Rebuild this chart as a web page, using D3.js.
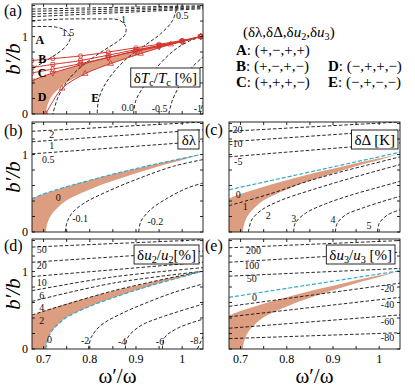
<!DOCTYPE html>
<html>
<head>
<meta charset="utf-8">
<script src="https://cdnjs.cloudflare.com/ajax/libs/d3/7.8.5/d3.min.js"></script>
<style>
body { margin: 0; background: #fff; }
text { font-family: "Liberation Serif", "DejaVu Serif", serif; }
</style>
</head>
<body>
<div id="vis"><svg></svg></div>
<script>
// ---- data (omega'/omega , b'/b) ----
const xDomain = [0.675, 1.045];
const yDomain = [0, 1.42];
const xTicks = [0.7, 0.75, 0.8, 0.85, 0.9, 0.95, 1.0];
const xTickLabels = [[0.7, "0.7"], [0.8, "0.8"], [0.9, "0.9"], [1.0, "1"]];
const yTicks = [0, 0.2, 0.4, 0.6, 0.8, 1.0, 1.2, 1.4];
const yTickLabels = [[0, "0"], [1, "1"]];

const shadeUpper = [[0.675,0.43],[0.70,0.49],[0.72,0.53],[0.75,0.585],[0.78,0.635],[0.83,0.715],[0.88,0.79],[0.93,0.86],[0.98,0.925],[1.04,1.0]];
const shadeLower = [[0.705,0],[0.707,0.08],[0.712,0.17],[0.72,0.25],[0.735,0.34],[0.75,0.41],[0.8,0.55],[0.85,0.66],[0.9,0.76],[0.95,0.85],[1.0,0.93],[1.04,1.0]];

// red lines of panel (a)
const redB1 = [[0.675,0.69],[0.72,0.715],[0.78,0.75],[0.84,0.80],[0.90,0.855],[0.95,0.9],[1.0,0.95],[1.04,1.0]];
const redB2 = [[0.675,0.60],[0.72,0.64],[0.78,0.69],[0.84,0.76],[0.90,0.83],[0.95,0.88],[1.0,0.94],[1.04,1.0]];
const redC = [[0.675,0.53],[0.72,0.58],[0.78,0.65],[0.84,0.73],[0.90,0.81],[0.95,0.87],[1.0,0.935],[1.04,1.0]];
const redUpper = [[0.675,0.43],[0.72,0.53],[0.78,0.635],[0.84,0.73],[0.90,0.815],[0.95,0.885],[1.0,0.94],[1.04,1.0]];
const redLower = [[0.705,0],[0.74,0.33],[0.79,0.52],[0.845,0.65],[0.91,0.78],[0.975,0.9],[1.04,1.0]];

const contoursA = [
  [[0.675,1.355],[1.045,1.397]],
  [[0.675,1.325],[1.045,1.385]],
  [[0.675,1.29],[1.045,1.372]],
  [[0.675,1.256],[1.045,1.359]],
  [[0.675,1.128],[0.729,1.12],[0.75,1.068],[0.758,0.99],[0.75,0.885],[0.729,0.778],[0.70,0.67],[0.675,0.585]],
  [[0.675,1.205],[0.75,1.226],[0.823,1.226],[0.863,1.214],[0.877,1.14],[0.877,1.034],[0.863,0.949],[0.83,0.82],[0.794,0.67],[0.765,0.52],[0.743,0.35],[0.729,0.18],[0.72,0]],
  [[0.99,1.42],[0.979,1.205],[0.953,1.034],[0.924,0.906],[0.888,0.756],[0.855,0.564],[0.83,0.35],[0.819,0.18],[0.816,0]],
  [[0.895,0],[0.9,0.18],[0.921,0.393],[0.946,0.607],[0.982,0.82],[1.018,0.949],[1.045,1.0]],
  [[0.971,0],[0.979,0.18],[0.997,0.393],[1.022,0.607],[1.045,0.735]],
  [[1.039,0],[1.045,0.15]]
];
const labelsA = [["1.5",0.753,1.05],["1",0.873,1.22],["0.5",1.0,1.27],["0.0",0.882,0.09],["-0.5",0.951,0.077],["-1",1.034,0.077]];
const regionsA = [["A",0.692,0.95],["B",0.697,0.715],["C",0.697,0.53],["D",0.697,0.22],["E",0.812,0.205]];

const contoursB = [
  [[0.675,1.30],[1.045,1.42]],
  [[0.675,1.165],[1.045,1.32]],
  [[0.675,1.009],[1.045,1.17]],
  [[0.747,0],[0.75,0.11],[0.761,0.24],[0.787,0.37],[0.837,0.52],[0.91,0.70],[0.982,0.85],[1.045,0.935]],
  [[0.906,0],[0.91,0.13],[0.931,0.286],[0.968,0.437],[1.011,0.567],[1.045,0.632]]
];
const labelsB = [["2",0.718,1.26],["1",0.718,1.12],["0.5",0.71,0.94],["0",0.732,0.45],["-0.1",0.779,0.18],["-0.2",0.942,0.13]];
const cyanB = shadeUpper;

const contoursC = [
  [[0.675,1.30],[1.045,1.42]],
  [[0.675,1.165],[1.045,1.316]],
  [[0.675,0.97],[1.045,1.15]],
  [[0.675,0.34],[0.768,0.50],[0.84,0.645],[0.913,0.77],[0.985,0.88],[1.045,0.97]],
  [[0.717,0],[0.724,0.155],[0.746,0.286],[0.79,0.415],[0.855,0.545],[0.927,0.675],[1.0,0.797],[1.045,0.87]],
  [[0.815,0],[0.818,0.11],[0.84,0.24],[0.884,0.364],[0.941,0.48],[1.0,0.58],[1.045,0.654]],
  [[0.905,0],[0.909,0.11],[0.927,0.22],[0.963,0.307],[1.007,0.394],[1.045,0.46]],
  [[0.996,0],[1.0,0.11],[1.018,0.22],[1.045,0.286]]
];
const labelsC = [["-20",0.69,1.32],["-10",0.69,1.14],["-5",0.695,0.91],["0",0.695,0.48],["1",0.71,0.33],["2",0.76,0.21],["3",0.815,0.18],["4",0.9,0.155],["5",0.978,0.08]];
const cyanC = [[0.675,0.545],[1.045,1.03]];

const contoursD = [
  [[0.675,1.316],[1.045,1.41]],
  [[0.675,1.12],[1.045,1.264]],
  [[0.675,0.935],[1.045,1.12]],
  [[0.675,0.753],[0.85,0.93],[1.045,1.05]],
  [[0.675,0.615],[0.85,0.85],[1.04,1.0]],
  [[0.675,0.44],[0.85,0.75],[1.04,1.0]],
  [[0.797,0],[0.803,0.147],[0.823,0.3],[0.866,0.45],[0.924,0.60],[0.982,0.73],[1.045,0.84]],
  [[0.877,0],[0.882,0.147],[0.91,0.3],[0.953,0.407],[1.045,0.58]],
  [[0.957,0],[0.962,0.147],[0.99,0.268],[1.045,0.385]],
  [[1.033,0],[1.045,0.16]]
];
const labelsD = [["50",0.696,1.28],["20",0.696,1.08],["10",0.696,0.86],["6",0.696,0.69],["4",0.696,0.54],["2",0.696,0.37],["0",0.713,0.125],["-2",0.79,0.11],["-4",0.87,0.10],["-6",0.952,0.10],["-8",1.026,0.11]];
const cyanD = shadeLower;

const contoursE = [
  [[0.675,1.307],[1.045,1.40]],
  [[0.675,1.12],[1.045,1.25]],
  [[0.675,0.94],[1.045,1.04]],
  [[0.675,0.55],[1.045,0.85]],
  [[0.675,0.415],[1.045,0.667]],
  [[0.675,0.268],[1.045,0.44]],
  [[0.675,0.134],[1.045,0.21]]
];
const labelsE = [["200",0.728,1.27],["100",0.724,1.08],["50",0.724,0.905],["0",0.73,0.66],["-20",1.018,0.78],["-40",1.018,0.57],["-60",1.018,0.36],["-80",1.018,0.147]];
const cyanE = [[0.675,0.667],[1.045,1.01]];

// legend: [column, row, pieces]
const legendItems = [
  [0, 0, [["(δλ,δΔ,δ",""],["u","i"],["2","s"],[",δ",""],["u","i"],["3","s"],[")",""]]],
  [1, 1, [["A","b"],[": (+,−,+,+)",""]]],
  [1, 2, [["B","b"],[": (+,−,+,−)",""]]],
  [2, 2, [["D","b"],[": (−,+,+,−)",""]]],
  [1, 3, [["C","b"],[": (+,+,+,−)",""]]],
  [2, 3, [["E","b"],[": (−,+,−,−)",""]]]
];

// ---- layout ----
var width = 415, height = 388;
var cols = [{x0: 32, x1: 203}, {x0: 229, x1: 400}];
var rows = [{y0: 4, y1: 114}, {y0: 122, y1: 232}, {y0: 239, y1: 349}];
var shadeColor = "#dc9d80", cyan = "#35a9c9", red = "#d3342c";

var svg = d3.select("#vis").select("svg")
  .attr("width", width).attr("height", height);
var defs = svg.append("defs");

// text with italic / bold / subscript pieces
function rich(sel, parts, size) {
  var shift = 0;
  parts.forEach(function (p) {
    var t = sel.append("tspan").text(p[0]);
    if (p[1] === "i") t.attr("font-style", "italic");
    if (p[1] === "b") t.attr("font-weight", "bold");
    var want = 0;
    if (p[1] === "s") {
      t.attr("font-size", size * 0.68);
      want = size * 0.2;
    }
    if (want !== shift) { t.attr("dy", want - shift); shift = want; }
  });
}

var smooth = d3.curveCatmullRom.alpha(0.5);

function drawPanel(p) {
  var c = cols[p.col], r = rows[p.row];
  var x = d3.scaleLinear().domain(xDomain).range([c.x0, c.x1]);
  var y = d3.scaleLinear().domain(yDomain).range([r.y1, r.y0]);
  var line = d3.line().x(d => x(d[0])).y(d => y(d[1])).curve(smooth);

  defs.append("clipPath").attr("id", "clip" + p.id)
    .append("rect").attr("x", c.x0).attr("y", r.y0)
    .attr("width", c.x1 - c.x0).attr("height", r.y1 - r.y0);
  var g = svg.append("g").attr("clip-path", "url(#clip" + p.id + ")");

  // shaded region
  var up = line(shadeUpper), lo = line(shadeLower.slice().reverse());
  g.append("path")
    .attr("d", "M" + x(xDomain[0]) + "," + y(0) + "L" + up.slice(1) + "L" + lo.slice(1) + "Z")
    .attr("fill", shadeColor).attr("stroke", "none");

  // contours
  g.selectAll("path.ct").data(p.contours).join("path")
    .attr("class", "ct")
    .attr("d", line)
    .attr("fill", "none").attr("stroke", "#111")
    .attr("stroke-width", 0.9).attr("stroke-dasharray", "3.5,2");

  if (p.cyan) {
    g.append("path").attr("d", line(p.cyan))
      .attr("fill", "none").attr("stroke", cyan)
      .attr("stroke-width", 1.2).attr("stroke-dasharray", "4,2");
  }

  if (p.red) {
    var sym = [d3.symbolCircle, d3.symbolSquare, d3.symbolDiamond, d3.symbolTriangle, d3.symbolTriangle];
    p.red.forEach(function (pts, i) {
      g.append("path").attr("d", line(pts))
        .attr("fill", "none").attr("stroke", red).attr("stroke-width", 1);
      g.selectAll(null).data(pts).join("path")
        .attr("transform", d => "translate(" + x(d[0]) + "," + y(d[1]) + ")" + (i === 3 ? " rotate(180)" : ""))
        .attr("d", d3.symbol().type(sym[i]).size(14))
        .attr("fill", "none").attr("stroke", red).attr("stroke-width", 0.8);
    });
  }

  // contour labels
  g.selectAll("text.cl").data(p.labels).join("text")
    .attr("class", "cl")
    .attr("x", d => x(d[1])).attr("y", d => y(d[2]))
    .attr("text-anchor", "middle").attr("dominant-baseline", "central")
    .attr("font-size", 10).attr("fill", "#111")
    .text(d => d[0]);

  if (p.regions) {
    g.selectAll("text.rg").data(p.regions).join("text")
      .attr("class", "rg")
      .attr("x", d => x(d[1])).attr("y", d => y(d[2]))
      .attr("text-anchor", "middle").attr("dominant-baseline", "central")
      .attr("font-size", 12).attr("font-weight", "bold")
      .text(d => d[0]);
  }

  // label box
  var bg = svg.append("g");
  var bt = bg.append("text").attr("font-size", 15).attr("text-anchor", "end");
  rich(bt, p.box, 15);
  var bb = bt.node().getBBox();
  var bw = bb.width + 6, bh = 19;
  var bx = c.x1 - p.boxRight - bw, by = r.y0 + p.boxTop;
  bg.insert("rect", "text").attr("x", bx).attr("y", by).attr("width", bw).attr("height", bh)
    .attr("fill", "#fff").attr("stroke", "#111").attr("stroke-width", 0.9);
  bt.attr("x", bx + bw - 3).attr("y", by + 14.5);

  // frame and ticks
  var f = svg.append("g").attr("stroke", "#111").attr("stroke-width", 0.9);
  f.append("rect").attr("x", c.x0).attr("y", r.y0).attr("width", c.x1 - c.x0).attr("height", r.y1 - r.y0)
    .attr("fill", "none");
  f.selectAll("line.xb").data(xTicks).join("line").attr("class", "xb")
    .attr("x1", d => x(d)).attr("x2", d => x(d)).attr("y1", r.y1).attr("y2", r.y1 - 3);
  f.selectAll("line.xt").data(xTicks).join("line").attr("class", "xt")
    .attr("x1", d => x(d)).attr("x2", d => x(d)).attr("y1", r.y0).attr("y2", r.y0 + 3);
  f.selectAll("line.yl").data(yTicks).join("line").attr("class", "yl")
    .attr("y1", d => y(d)).attr("y2", d => y(d)).attr("x1", c.x0).attr("x2", c.x0 + 3);
  f.selectAll("line.yr").data(yTicks).join("line").attr("class", "yr")
    .attr("y1", d => y(d)).attr("y2", d => y(d)).attr("x1", c.x1).attr("x2", c.x1 - 3);

  if (p.col === 0) {
    svg.selectAll(null).data(yTickLabels).join("text")
      .attr("x", c.x0 - 4).attr("y", d => y(d[0])).attr("text-anchor", "end")
      .attr("dominant-baseline", "central").attr("font-size", 12).text(d => d[1]);
    svg.append("text")
      .attr("transform", "translate(" + 20 + "," + ((r.y0 + r.y1) / 2) + ") rotate(-90)")
      .attr("text-anchor", "middle").attr("font-size", 21).attr("font-style", "italic")
      .text("b\u2032/b");
  }
  if (p.row === 2) {
    svg.selectAll(null).data(xTickLabels).join("text")
      .attr("x", d => x(d[0])).attr("y", r.y1 + 14).attr("text-anchor", "middle")
      .attr("font-size", 12).text(d => d[1]);
    svg.append("text")
      .attr("x", (c.x0 + c.x1) / 2).attr("y", r.y1 + 34).attr("text-anchor", "middle")
      .attr("font-size", 21).text("\u03c9\u2032/\u03c9");
  }

  svg.append("text").attr("x", p.col === 0 ? 4 : 205).attr("y", r.y0 + p.tagY)
    .attr("font-size", 16).text("(" + p.id + ")");
}

drawPanel({id: "a", col: 0, row: 0, contours: contoursA, labels: labelsA, regions: regionsA,
  red: [redB1, redB2, redC, redUpper, redLower],
  box: [["δ",""],["T","i"],["c","s"],["/",""],["T","i"],["c","s"],[" [%]",""]], boxRight: 3, boxTop: 64, tagY: 12});
drawPanel({id: "b", col: 0, row: 1, contours: contoursB, labels: labelsB, cyan: cyanB,
  box: [["δλ",""]], boxRight: 4, boxTop: 8, tagY: 14});
drawPanel({id: "c", col: 1, row: 1, contours: contoursC, labels: labelsC, cyan: cyanC,
  box: [["δΔ [K]",""]], boxRight: 2, boxTop: 8, tagY: 13});
drawPanel({id: "d", col: 0, row: 2, contours: contoursD, labels: labelsD, cyan: cyanD,
  box: [["δ",""],["u","i"],["2","s"],["/",""],["u","i"],["2","s"],["[%]",""]], boxRight: 4, boxTop: 6, tagY: 12});
drawPanel({id: "e", col: 1, row: 2, contours: contoursE, labels: labelsE, cyan: cyanE,
  box: [["δ",""],["u","i"],["3","s"],["/",""],["u","i"],["3","s"],[" [%]",""]], boxRight: 5, boxTop: 6, tagY: 12});

// legend
var legX = [243, 236, 328];
var legY = [37, 55, 71, 87];
legendItems.forEach(function (it) {
  var t = svg.append("text").attr("x", legX[it[0]]).attr("y", legY[it[1]]).attr("font-size", 15);
  rich(t, it[2], 15);
});
</script>
</body>
</html>
